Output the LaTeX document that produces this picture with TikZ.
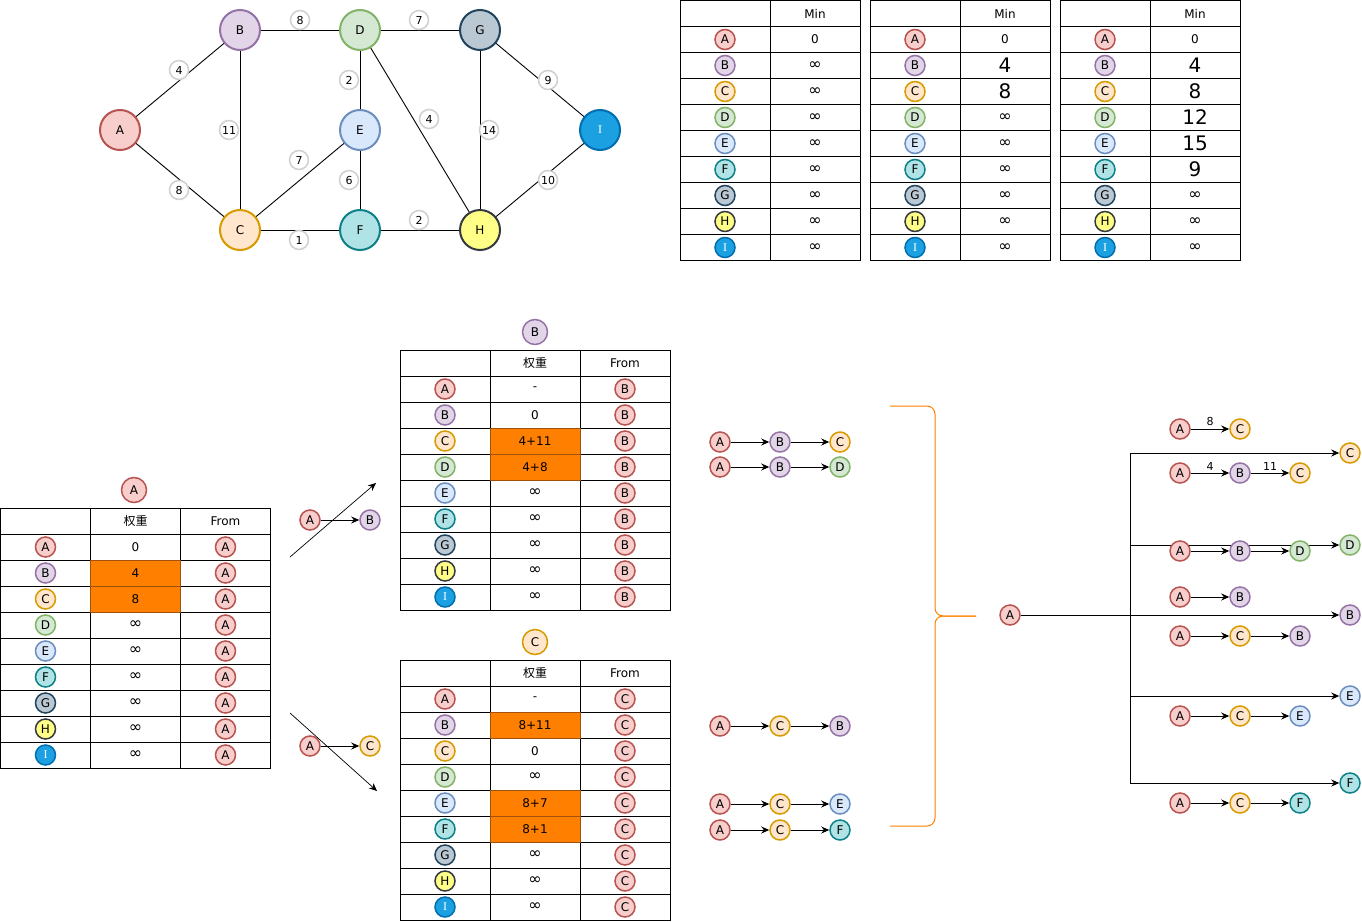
\documentclass[tikz,border=0pt]{standalone}
\usepackage{fontspec}
\setmainfont{DejaVu Sans}
\newfontfamily\cjkfont{Noto Sans CJK SC}
\newfontfamily\serifface{Liberation Serif}
\usetikzlibrary{arrows.meta}

% vertex palette
\definecolor{fillA}{HTML}{F8CECC}\definecolor{lineA}{HTML}{B85450}
\definecolor{fillB}{HTML}{E1D5E7}\definecolor{lineB}{HTML}{9673A6}
\definecolor{fillC}{HTML}{FFE6CC}\definecolor{lineC}{HTML}{D79B00}
\definecolor{fillD}{HTML}{D5E8D4}\definecolor{lineD}{HTML}{82B366}
\definecolor{fillE}{HTML}{DAE8FC}\definecolor{lineE}{HTML}{6C8EBF}
\definecolor{fillF}{HTML}{B0E3E6}\definecolor{lineF}{HTML}{0E8088}
\definecolor{fillG}{HTML}{BAC8D3}\definecolor{lineG}{HTML}{23445D}
\definecolor{fillH}{HTML}{FFFF88}\definecolor{lineH}{HTML}{36393D}
\definecolor{fillI}{HTML}{1BA1E2}\definecolor{lineI}{HTML}{006EAF}
\definecolor{wgray}{HTML}{D0D0D0}
\definecolor{hotfill}{HTML}{FF8000}
\definecolor{hotline}{HTML}{A0520A}

\newcommand\bigv[1]{{\fontsize{20}{22}\selectfont #1}}
\newcommand\oo{{\fontsize{16}{16}\selectfont ∞}}

\tikzset{
  every node/.style={font=\fontsize{12}{14}\selectfont},
  vbig/.style={circle, minimum size=40pt, inner sep=0pt, line width=2pt},
  vsm/.style={circle, minimum size=20pt, inner sep=0pt, line width=1.5pt},
  vtitle/.style={vsm, minimum size=25pt},
  wt/.style={circle, minimum size=19pt, inner sep=0pt, fill=white, draw=wgray,
    line width=1.5pt, font=\fontsize{11}{13}\selectfont},
  link/.style={line width=0.9pt},
  rule/.style={line width=1pt, line cap=rect},
  hot/.style={fill=hotfill, draw=hotline, line width=0.8pt},
  arr/.style={line width=1pt, -{Stealth[length=8pt,width=7pt]}},
  thinarr/.style={line width=0.7pt, -{Stealth[length=8pt,width=7pt]}},
  lab/.style={above, inner sep=2.5pt, font=\fontsize{11}{13}\selectfont},
  brace/.style={draw=hotfill, line width=1pt, rounded corners=8pt},
  kA/.style={fill=fillA, draw=lineA},
  kB/.style={fill=fillB, draw=lineB},
  kC/.style={fill=fillC, draw=lineC},
  kD/.style={fill=fillD, draw=lineD},
  kE/.style={fill=fillE, draw=lineE},
  kF/.style={fill=fillF, draw=lineF},
  kG/.style={fill=fillG, draw=lineG},
  kH/.style={fill=fillH, draw=lineH},
  kI/.style={fill=fillI, draw=lineI, text=white, execute at begin node=\serifface},
}

% two-column "Min" table: #1 left edge, #2 name prefix, #3 values for A..I
\newcommand\mintable[3]{%
  \foreach \k in {0,...,10} \draw[rule] ({#1},{0.5+26*\k}) -- ({#1+180},{0.5+26*\k});
  \foreach \c in {0,90,180} \draw[rule] ({#1+\c},0.5) -- ({#1+\c},260.5);
  \node (#2-head) at ({#1+135},13.5) {Min};
  \foreach \L [count=\k] in {A,...,I} \node[vsm,k\L] (#2-\L) at ({#1+45},{13.5+26*\k}) {\L};
  \foreach \v [count=\k] in {#3} \node (#2-v\k) at ({#1+135},{13.5+26*\k}) {\v};
}

% three-column table: #1 left, #2 top, #3 prefix, #4 source letter, #5 weights, #6 highlighted rows
\newcommand\wtable[6]{%
  \foreach \k in {0,...,10} \draw[rule] ({#1},{#2+26*\k}) -- ({#1+270},{#2+26*\k});
  \foreach \c in {0,90,180,270} \draw[rule] ({#1+\c},{#2}) -- ({#1+\c},{#2+260});
  \foreach \r in {#6} \draw[hot] ({#1+90},{#2+26*\r}) rectangle ({#1+180},{#2+26*\r+26});
  \node (#3-hw) at ({#1+135},{#2+13}) {\cjkfont 权重};
  \node (#3-hf) at ({#1+225},{#2+13}) {From};
  \foreach \L [count=\k] in {A,...,I} {
    \node[vsm,k\L] (#3-\L) at ({#1+45},{#2+13+26*\k}) {\L};
    \node[vsm,kA] (#3-f\L) at ({#1+225},{#2+13+26*\k}) {#4};
  }
  \foreach \v [count=\k] in {#5} \node (#3-w\k) at ({#1+135},{#2+13+26*\k}) {\v};
}

\begin{document}
\begin{tikzpicture}[x=1pt, y=-1pt]
\useasboundingbox (0,0) rectangle (1362,921);
\fill[white] (0,0) rectangle (1362,921);

% ---------- weighted graph ----------
\node[vbig,kA] (gA) at (120,130) {A};
\node[vbig,kB] (gB) at (240,30) {B};
\node[vbig,kC] (gC) at (240,230) {C};
\node[vbig,kD] (gD) at (360,30) {D};
\node[vbig,kE] (gE) at (360,130) {E};
\node[vbig,kF] (gF) at (360,230) {F};
\node[vbig,kG] (gG) at (480,30) {G};
\node[vbig,kH] (gH) at (480,230) {H};
\node[vbig,kI] (gI) at (600,130) {I};

\foreach \u/\v in {A/B,A/C,B/D,B/C,D/G,D/E,D/H,C/E,C/F,E/F,F/H,G/H,G/I,H/I}
  \draw[link] (g\u) -- (g\v);

\node[wt] (wAB) at (179,70) {4};
\node[wt] (wBD) at (300,20) {8};
\node[wt] (wDG) at (419,20) {7};
\node[wt] (wDE) at (349,80) {2};
\node[wt] (wBC) at (229,130) {11};
\node[wt] (wDH) at (429,119) {4};
\node[wt] (wGH) at (489,130) {14};
\node[wt] (wGI) at (548,80) {9};
\node[wt] (wCE) at (299,160) {7};
\node[wt] (wEF) at (349,180) {6};
\node[wt] (wAC) at (179,190) {8};
\node[wt] (wCF) at (299,240) {1};
\node[wt] (wFH) at (419,220) {2};
\node[wt] (wHI) at (548,180) {10};

% ---------- distance tables ----------
\mintable{680}{ta}{0,\oo,\oo,\oo,\oo,\oo,\oo,\oo,\oo}
\mintable{870}{tb}{0,\bigv{4},\bigv{8},\oo,\oo,\oo,\oo,\oo,\oo}
\mintable{1060}{tc}{0,\bigv{4},\bigv{8},\bigv{12},\bigv{15},\bigv{9},\oo,\oo,\oo}

% ---------- relaxation tables ----------
\node[vtitle,kA] (hA) at (134,490) {A};
\wtable{0.5}{508}{sa}{A}{0,4,8,\oo,\oo,\oo,\oo,\oo,\oo}{2,3}
\node[vtitle,kB] (hB) at (535,332) {B};
\wtable{400}{350}{sb}{B}{-,0,4+11,4+8,\oo,\oo,\oo,\oo,\oo}{3,4}
\node[vtitle,kC] (hC) at (535,642) {C};
\wtable{400}{660}{sc}{C}{-,8+11,0,\oo,8+7,8+1,\oo,\oo,\oo}{2,5,6}

% step arrows with the chosen edge
\node[vsm,kA] (u1) at (310,520) {A};
\node[vsm,kB] (u2) at (370,520) {B};
\draw[arr] (u1) -- (u2);
\node[vsm,kA] (l1) at (310,746) {A};
\node[vsm,kC] (l2) at (370,746) {C};
\draw[arr] (l1) -- (l2);
\coordinate (du0) at (290,557); \coordinate (du1) at (376,483);
\coordinate (dl0) at (290,713); \coordinate (dl1) at (377,791);
\draw[thinarr] (du0) -- (du1);
\draw[thinarr] (dl0) -- (dl1);

% ---------- candidate paths ----------
\foreach \y/\a/\b/\c [count=\n] in {442/A/B/C,467/A/B/D,726/A/C/B,804/A/C/E,830/A/C/F} {
  \node[vsm,k\a] (m\n-a) at (720,\y) {\a};
  \node[vsm,k\b] (m\n-b) at (780,\y) {\b};
  \node[vsm,k\c] (m\n-c) at (840,\y) {\c};
  \draw[arr] (m\n-a) -- (m\n-b);
  \draw[arr] (m\n-b) -- (m\n-c);
}

% brace
\coordinate (bt) at (890,406);
\coordinate (bb) at (890,826);
\coordinate (bm) at (935,616);
\coordinate (bp) at (976,616);
\draw[brace] (bt) -| (bm) -- (bp);
\draw[brace] (bb) -| (bm) -- (bp);

% ---------- shortest path tree ----------
\node[vsm,kA] (r0) at (1010,615) {A};
\foreach \y/\L [count=\n] in {453/C,545/D,615/B,696/E,783/F} {
  \node[vsm,k\L] (r\n) at (1350,\y) {\L};
  \coordinate (t\n) at (1130,\y);
}
\draw[link] (t1) -- (t5);
\draw[link] (r0) -- (t3);
\foreach \n in {1,...,5} \draw[arr] (t\n) -- (r\n);

\node[vsm,kA] (p1-a) at (1180,429) {A};
\node[vsm,kC] (p1-b) at (1240,429) {C};
\draw[arr] (p1-a) -- node[lab] {8} (p1-b);

\node[vsm,kA] (p2-a) at (1180,473) {A};
\node[vsm,kB] (p2-b) at (1240,473) {B};
\node[vsm,kC] (p2-c) at (1300,473) {C};
\draw[arr] (p2-a) -- node[lab] {4} (p2-b);
\draw[arr] (p2-b) -- node[lab] {11} (p2-c);

\foreach \y/\a/\b/\c [count=\n] in {551/A/B/D,636/A/C/B,716/A/C/E,803/A/C/F} {
  \node[vsm,k\a] (q\n-a) at (1180,\y) {\a};
  \node[vsm,k\b] (q\n-b) at (1240,\y) {\b};
  \node[vsm,k\c] (q\n-c) at (1300,\y) {\c};
  \draw[arr] (q\n-a) -- (q\n-b);
  \draw[arr] (q\n-b) -- (q\n-c);
}
\node[vsm,kA] (p3-a) at (1180,597) {A};
\node[vsm,kB] (p3-b) at (1240,597) {B};
\draw[arr] (p3-a) -- (p3-b);

\end{tikzpicture}
\end{document}
